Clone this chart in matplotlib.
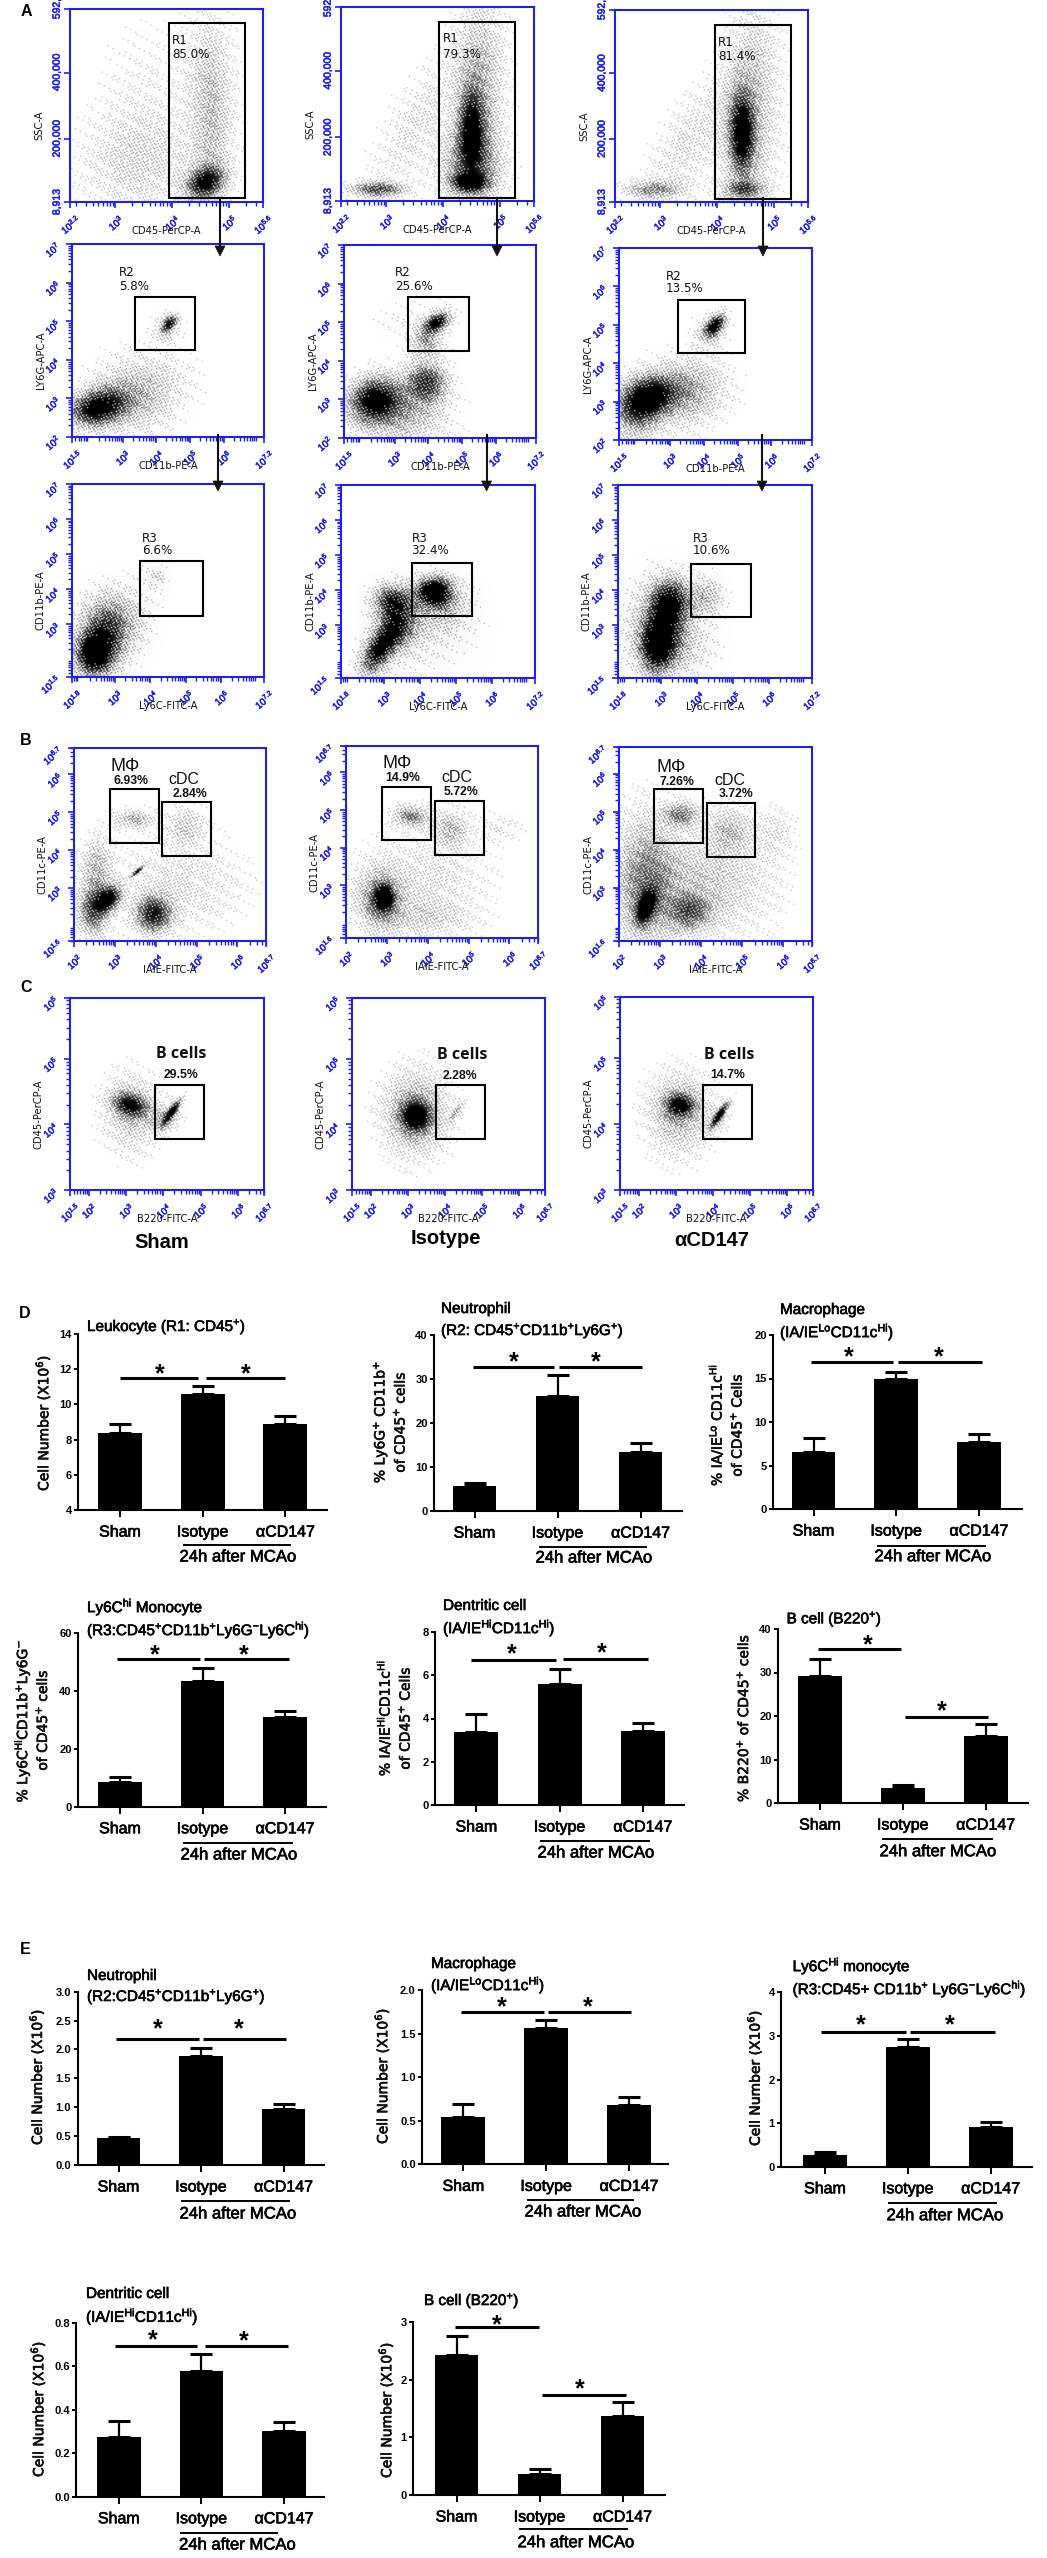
import numpy as np
import matplotlib
matplotlib.use("Agg")
import matplotlib.pyplot as plt
import matplotlib.patheffects as pe
from matplotlib.patches import Rectangle, Polygon

plt.rcParams['font.family'] = ['Liberation Sans', 'DejaVu Sans']
plt.rcParams['mathtext.fontset'] = 'custom'
plt.rcParams['mathtext.rm'] = 'Liberation Sans'
plt.rcParams['mathtext.it'] = 'Liberation Sans'
plt.rcParams['mathtext.bf'] = 'Liberation Sans:bold'
plt.rcParams['mathtext.default'] = 'regular'

W, H = 1047, 2558
BLUE = '#1f1fe6'
THICK = [pe.withStroke(linewidth=0.45, foreground='black')]
THICK_BLUE = [pe.withStroke(linewidth=0.4, foreground=BLUE)]

# ---------------- DATA: bar panels ----------------
categories = ['Sham', 'Isotype', 'αCD147']
leukocyte_vals, leukocyte_errs = [8.35, 10.6, 8.9], [0.55, 0.45, 0.45]
neutrophil_vals, neutrophil_errs = [5.7, 26.2, 13.5], [0.7, 4.8, 1.9]
macrophage_vals, macrophage_errs = [6.6, 14.9, 7.7], [1.6, 0.9, 0.9]
monocyte_vals, monocyte_errs = [8.6, 43.3, 31.0], [1.7, 4.4, 2.0]
dendritic_vals, dendritic_errs = [3.36, 5.58, 3.44], [0.84, 0.72, 0.36]
bcell_vals, bcell_errs = [29.2, 3.4, 15.5], [4.0, 0.7, 2.6]
n_neutrophil_vals, n_neutrophil_errs = [0.46, 1.885, 0.975], [0.03, 0.135, 0.08]
n_macrophage_vals, n_macrophage_errs = [0.546, 1.563, 0.677], [0.144, 0.092, 0.093]
n_monocyte_vals, n_monocyte_errs = [0.27, 2.74, 0.92], [0.07, 0.18, 0.105]
n_dendritic_vals, n_dendritic_errs = [0.276, 0.578, 0.302], [0.071, 0.078, 0.04]
n_bcell_vals, n_bcell_errs = [2.43, 0.37, 1.377], [0.33, 0.08, 0.243]

# ---------------- DATA: flow plot gates and text ----------------
r1_pct = ['85.0%', '79.3%', '81.4%']
r2_pct = ['5.8%', '25.6%', '13.5%']
r3_pct = ['6.6%', '32.4%', '10.6%']
mph_pct = ['6.93%', '14.9%', '7.26%']
cdc_pct = ['2.84%', '5.72%', '3.72%']
bc_pct = ['29.5%', '2.28%', '14.7%']
column_names = ['Sham', 'Isotype', 'αCD147']

# density clusters, as
# (centre x, centre y, long sd, short sd, angle deg, darkness), in fractions of the plot box
r1_clusters = [
    [(.70, .10, .07, .05, 30, .85), (.73, .35, .25, .07, 90, .24), (.72, .70, .20, .08, 90, .13),
     (.35, .20, .18, .17, 0, .16), (.40, .55, .25, .15, 90, .05)],
    [(.667, .095, .06, .03, 0, .9), (.676, .37, .14, .045, 90, .8), (.72, .60, .30, .08, 90, .3),
     (.19, .06, .09, .025, 0, .6), (.40, .40, .25, .09, 60, .12), (.67, .18, .12, .10, 90, .45)],
    [(.658, .36, .13, .04, 90, .9), (.667, .065, .07, .03, 0, .5), (.68, .35, .25, .09, 90, .3),
     (.72, .75, .20, .08, 90, .15), (.20, .065, .10, .03, 0, .4), (.38, .30, .22, .09, 60, .13)],
]
r2_clusters = [
    [(.13, .15, .10, .06, 15, .9), (.33, .22, .16, .12, 20, .35), (.51, .59, .035, .02, 50, .75),
     (.49, .56, .05, .05, 0, .2)],
    [(.16, .20, .09, .075, 20, .9), (.43, .29, .07, .07, 0, .7), (.485, .60, .05, .03, 30, .9),
     (.43, .50, .05, .05, 0, .4), (.30, .12, .15, .10, 0, .35), (.35, .60, .12, .08, 0, .07)],
    [(.16, .225, .09, .07, 25, .85), (.35, .25, .13, .11, 20, .4), (.08, .15, .10, .08, 90, .45),
     (.50, .60, .045, .025, 50, .9), (.47, .56, .06, .05, 50, .25)],
]
r3_clusters = [
    [(.11, .11, .08, .07, 90, .85), (.165, .23, .12, .09, 90, .6), (.27, .30, .12, .10, 90, .25),
     (.42, .52, .06, .06, 0, .1), (.45, .52, .03, .03, 0, .18)],
    [(.195, .145, .10, .05, 60, .85), (.265, .405, .07, .06, 0, .7), (.478, .45, .06, .05, 0, .95),
     (.30, .27, .08, .07, 90, .55), (.40, .20, .20, .15, 0, .12), (.53, .38, .10, .10, 0, .35)],
    [(.27, .405, .08, .07, 90, .75), (.20, .145, .09, .06, 90, .7), (.235, .25, .10, .08, 90, .45),
     (.20, .25, .18, .13, 90, .25), (.46, .42, .07, .06, 90, .35), (.38, .15, .10, .10, 0, .15)],
]
mc_clusters = [
    [(.18, .22, .05, .035, 50, .95), (.10, .16, .08, .05, 90, .6), (.12, .37, .10, .05, 90, .3),
     (.415, .14, .06, .06, 0, .8), (.315, .63, .07, .03, 0, .3), (.585, .59, .06, .06, 0, .2),
     (.55, .30, .20, .15, 0, .12), (.33, .36, .025, .006, 40, .95)],
    [(.20, .21, .04, .03, 90, .95), (.18, .20, .09, .07, 90, .55), (.34, .63, .06, .035, 0, .45),
     (.545, .56, .06, .06, 0, .28), (.40, .30, .20, .15, 0, .12), (.80, .57, .08, .05, 0, .08),
     (.40, .10, .15, .06, 0, .15)],
    [(.14, .175, .06, .03, 70, .95), (.14, .30, .20, .10, 90, .45), (.365, .15, .07, .06, 0, .5),
     (.32, .65, .06, .04, 0, .45), (.575, .57, .07, .07, 0, .25), (.45, .30, .20, .17, 0, .22),
     (.80, .55, .08, .07, 90, .1)],
]
bc_clusters = [
    [(.31, .44, .06, .04, -15, .75), (.32, .40, .12, .09, 90, .25), (.525, .405, .05, .012, 55, 1.0),
     (.49, .37, .05, .04, 40, .3)],
    [(.33, .38, .05, .05, 0, .9), (.33, .40, .13, .10, 90, .4), (.54, .405, .04, .012, 55, .35)],
    [(.31, .44, .05, .04, 0, .8), (.31, .40, .13, .10, 90, .3), (.517, .39, .05, .012, 55, 1.0),
     (.50, .37, .05, .04, 90, .12)],
]

# ---------------- layout ----------------
fig = plt.figure(figsize=(W / 100, H / 100), dpi=100, facecolor='white')


def ax_px(x0, y0, x1, y1, **kw):
    return fig.add_axes([x0 / W, 1 - y1 / H, (x1 - x0) / W, (y1 - y0) / H], **kw)


ov = fig.add_axes([0, 0, 1, 1], zorder=20)
ov.set_xlim(0, W)
ov.set_ylim(H, 0)
ov.axis('off')
ov.patch.set_alpha(0)


def density_image(clusters, nx, ny, cell, gamma):
    fx = (np.arange(nx) + .5) / nx
    fy = (np.arange(ny) + .5) / ny
    X, Y = np.meshgrid(fx, fy)
    d = np.zeros_like(X)
    for cx, cy, a, b, th, p in clusters:
        t = np.deg2rad(th)
        u = (X - cx) * np.cos(t) + (Y - cy) * np.sin(t)
        v = -(X - cx) * np.sin(t) + (Y - cy) * np.cos(t)
        d += p * np.exp(-.5 * (u / a) ** 2 - .5 * (v / b) ** 2)
    d = np.clip(d, 0, 1)
    # interference texture: reproduces the herringbone grain of the printed dot plot
    xp, yp = np.meshgrid(np.arange(nx) * cell, np.arange(ny) * cell)
    T = .5 + .25 * (np.sin(2 * np.pi * (xp / 3.3 + yp / 5.1)) + np.sin(2 * np.pi * (xp / 4.3 - yp / 3.1)))
    level = d ** gamma
    dots = (level > T * .95 + .03).astype(float)
    dots[d < .012] = 0
    return np.clip(1 - (.22 * d + .85 * dots * (.30 + .70 * d)), 0, 1)


def minor_positions(lo, hi):
    out = []
    for n in range(int(np.floor(lo)), int(np.ceil(hi)) + 1):
        for k in range(2, 10):
            v = n + np.log10(k)
            if lo < v < hi:
                out.append(v)
    return out


def decade_label(v):
    return f'$10^{{{v:g}}}$'


def flow_panel(box, clusters, xlim, xmaj, ylim, ymaj, xlabel, ylabel, linear_y=False, ylabels=None, gamma=.65):
    x0, y0, x1, y1 = box
    ax = ax_px(x0, y0, x1, y1)
    cell = 1.25
    nx, ny = int((x1 - x0) / cell), int((y1 - y0) / cell)
    img = density_image(clusters, nx, ny, cell, gamma)
    ax.imshow(img, origin='lower', cmap='gray', vmin=0, vmax=1, interpolation='bilinear',
              aspect='auto', extent=[xlim[0], xlim[1], ylim[0], ylim[1]], zorder=1)
    ax.set_xlim(*xlim)
    ax.set_ylim(*ylim)
    for s in ax.spines.values():
        s.set_color(BLUE)
        s.set_linewidth(1.5)
    ax.set_xticks(xmaj, [decade_label(v) for v in xmaj])
    ax.set_xticks(minor_positions(*xlim), minor=True)
    ax.tick_params(axis='x', which='major', length=4.5, width=1.2, color=BLUE, labelcolor=BLUE,
                   labelsize=7, labelrotation=40, pad=2.2)
    ax.tick_params(axis='x', which='minor', length=3, width=1.0, color=BLUE)
    if linear_y:
        ax.set_yticks(ymaj, ylabels)
        ax.tick_params(axis='y', which='major', length=4, width=1.2, color=BLUE, labelcolor=BLUE,
                       labelsize=7.5, pad=2)
        for t in ax.get_yticklabels():
            t.set_rotation(90)
            t.set_va('center')
    else:
        ax.set_yticks(ymaj, ylabels if ylabels else [decade_label(v) for v in ymaj])
        ax.set_yticks(minor_positions(*ylim), minor=True)
        ax.tick_params(axis='y', which='major', length=4.5, width=1.2, color=BLUE, labelcolor=BLUE,
                       labelsize=7, labelrotation=40, pad=2)
        ax.tick_params(axis='y', which='minor', length=3, width=1.0, color=BLUE)
    for t in ax.get_xticklabels() + ax.get_yticklabels():
        t.set_path_effects(THICK_BLUE)
    ov.text((x0 + x1) / 2, y1 + 29, xlabel, ha='center', va='center', fontsize=7.2,
            family='DejaVu Sans', color='#111111')
    ov.text(x0 - 31, (y0 + y1) / 2 + 20, ylabel, ha='center', va='center', rotation=90, fontsize=7.2,
            family='DejaVu Sans', color='#111111')
    return ax


def gate(x0, y0, x1, y1):
    ov.add_patch(Rectangle((x0, y0), x1 - x0, y1 - y0, fill=False, ec='black', lw=1.5, zorder=5))


def gate_text(x, y, s, size=8.6, bold=False, family='DejaVu Sans'):
    ov.text(x, y, s, ha='left', va='center', fontsize=size, family=family,
            weight='bold' if bold else 'normal', color='#111111')


def arrow(x, y0, y1):
    ov.plot([x, x], [y0, y1 - 8], color='#111111', lw=1.5, zorder=6)
    ov.add_patch(Polygon([(x - 5, y1 - 10), (x + 5, y1 - 10), (x, y1)], closed=True, fc='#111111',
                         ec='#111111', lw=.5, zorder=6))


# --- panel A ---
row1_boxes = [(70, 9, 263, 202), (341, 7, 534, 201), (615, 10, 808, 202)]
row2_boxes = [(72, 244, 264, 437), (344, 245, 536, 438), (619, 248, 812, 440)]
row3_boxes = [(72, 484, 264, 677), (341, 485, 535, 678), (618, 485, 812, 678)]
mc_boxes = [(74, 748, 266, 941), (346, 746, 538, 938), (619, 747, 812, 941)]
bc_boxes = [(70, 998, 264, 1190), (352, 998, 545, 1190), (620, 997, 813, 1190)]

for i in range(3):
    flow_panel(row1_boxes[i], r1_clusters[i], (2.2, 5.6), [2.2, 3, 4, 5, 5.6], (8913, 592000),
               [8913, 200000, 400000, 592000], 'CD45-PerCP-A', 'SSC-A', linear_y=True,
               ylabels=['8,913', '200,000', '400,000', '592,'], gamma=.7)
    flow_panel(row2_boxes[i], r2_clusters[i], (1.5, 7.2), [1.5, 3, 4, 5, 6, 7.2], (2, 7),
               [2, 3, 4, 5, 6, 7], 'CD11b-PE-A', 'LY6G-APC-A', gamma=.8)
    flow_panel(row3_boxes[i], r3_clusters[i], (1.8, 7.2), [1.8, 3, 4, 5, 6, 7.2], (1.5, 7),
               [1.5, 3, 4, 5, 6, 7], 'Ly6C-FITC-A', 'CD11b-PE-A', gamma=1.0)
    flow_panel(mc_boxes[i], mc_clusters[i], (2, 6.7), [2, 3, 4, 5, 6, 6.7], (1.6, 6.7),
               [1.6, 3, 4, 5, 6, 6.7], 'IAIE-FITC-A', 'CD11c-PE-A')
    flow_panel(bc_boxes[i], bc_clusters[i], (1.5, 6.7), [1.5, 2, 3, 4, 5, 6, 6.7], (3, 5.93),
               [3, 4, 5, 5.93], 'B220-FITC-A', 'CD45-PerCP-A',
               ylabels=['$10^{3}$', '$10^{4}$', '$10^{5}$', '$10^{5}$'])

r1_gates = [(169, 23, 245, 197.5), (439, 22, 514.5, 197.5), (715, 25, 791, 199)]
r2_gates = [(134.6, 297, 194.6, 350), (408, 297, 469, 351.4), (678, 300, 745, 353)]
r3_gates = [(140, 561, 202.5, 616), (412, 563, 472, 616), (691, 564, 751, 617)]
r1_text = [(172, 40, 54), (442.5, 39, 54), (718, 43, 57)]
r2_text = [(119, 273, 286), (395, 273, 286), (666, 276, 288)]
r3_text = [(142, 538, 550), (411.5, 538, 550), (692.7, 538, 550)]
for i in range(3):
    gate(*r1_gates[i]); gate(*r2_gates[i]); gate(*r3_gates[i])
    gate_text(r1_text[i][0], r1_text[i][1], 'R1'); gate_text(r1_text[i][0], r1_text[i][2], r1_pct[i])
    gate_text(r2_text[i][0], r2_text[i][1], 'R2'); gate_text(r2_text[i][0], r2_text[i][2], r2_pct[i])
    gate_text(r3_text[i][0], r3_text[i][1], 'R3'); gate_text(r3_text[i][0], r3_text[i][2], r3_pct[i])

for x1, x2, x3 in [(220, 218, 219), (497, 486.6, 486.6), (763, 762, 762)]:
    arrow(x1, 198, 256)
    arrow(x2, 435, 491)

# --- panel B ---
mph_gates = [(109.5, 789, 159, 843), (381.5, 787, 431, 840), (654, 789, 703, 843)]
cdc_gates = [(162, 802, 211, 856), (434.6, 801, 484, 855), (707, 803, 755, 857)]
mph_text = [(110.5, 766.7, 114, 780.5), (382, 764, 385, 778), (656, 768, 660, 781.7)]
cdc_text = [(168.7, 780, 173, 794), (441, 778, 443.5, 792.4), (714, 780.7, 719, 794)]
for i in range(3):
    gate(*mph_gates[i]); gate(*cdc_gates[i])
    a, b, c, d = mph_text[i]
    gate_text(a, b, 'MΦ', size=13, family='Liberation Sans')
    gate_text(c, d, mph_pct[i], size=8.8, family='Liberation Sans', bold=True)
    a, b, c, d = cdc_text[i]
    gate_text(a, b, 'cDC', size=11.5, family='Liberation Sans')
    gate_text(c, d, cdc_pct[i], size=8.8, family='Liberation Sans', bold=True)

# --- panel C ---
bc_gates = [(154.6, 1085, 204, 1139), (435.6, 1085, 485, 1139), (703, 1085, 752, 1139)]
bc_text = [(155.6, 1054, 163.6, 1074.7), (437, 1055, 442.5, 1075.6), (704, 1055, 710, 1074.7)]
for i in range(3):
    gate(*bc_gates[i])
    a, b, c, d = bc_text[i]
    gate_text(a, b, 'B cells', size=11.5, family='Open Sans', bold=True)
    gate_text(c, d, bc_pct[i], size=8.8, family='Liberation Sans', bold=True)

for x, y, s in zip([162, 446, 712], [1242, 1239, 1240], column_names):
    ov.text(x, y, s, ha='center', va='center', fontsize=14.5, weight='bold', family=['Liberation Sans', 'DejaVu Sans'])

for x, y, s in [(26, 11.5, 'A'), (26, 740.5, 'B'), (26, 988, 'C'), (25, 1313, 'D'), (25, 1949, 'E')]:
    ov.text(x, y, s, ha='center', va='center', fontsize=11.5, weight='bold')

# --- bar panels ---
SIG_LW = 2.2


def bar_panel(box, c0, sp, vals, errs, ylim, yticks, ytlabels, sigs, stars, line, caption, titles, ylabels):
    x0, y0, x1, y1 = box
    ax = ax_px(x0, y0, x1, y1)
    xs = np.arange(3)
    ax.bar(xs, vals, width=.53, color='black', zorder=3)
    ax.errorbar(xs, vals, yerr=[np.zeros(3), errs], fmt='none', ecolor='black', elinewidth=1.6,
                capsize=8, capthick=2.2, zorder=2)
    ax.set_xlim((x0 - c0) / sp, (x1 - c0) / sp)
    ax.set_ylim(*ylim)
    ax.patch.set_alpha(0)
    for s in ('top', 'right'):
        ax.spines[s].set_visible(False)
    for s in ('left', 'bottom'):
        ax.spines[s].set_linewidth(1.5)
    ax.set_xticks(xs, categories)
    ax.set_yticks(yticks, ytlabels)
    ax.tick_params(axis='x', length=5, width=1.4, labelsize=11.5, pad=5.5)
    ax.tick_params(axis='y', length=3, width=1.4, labelsize=8, pad=1.5)
    for t in ax.get_yticklabels():
        t.set_fontweight('bold')
    for t in ax.get_xticklabels():
        t.set_path_effects(THICK)
    for (a, b, y) in sigs:
        ov.plot([a, b], [y, y], color='black', lw=SIG_LW, solid_capstyle='butt')
    for (x, y) in stars:
        ov.text(x, y + 5, '*', ha='center', va='center', fontsize=18, weight='bold')
    ov.plot([line[0], line[1]], [line[2], line[2]], color='black', lw=1.4)
    ov.text(caption[0], caption[1], '24h after MCAo', ha='center', va='center', fontsize=12, path_effects=THICK)
    for (x, y, s) in titles:
        ov.text(x, y, s, ha='left', va='center', fontsize=11, path_effects=THICK)
    for (x, y, s) in ylabels:
        ov.text(x, y, s, ha='center', va='center', rotation=90, fontsize=10, family='DejaVu Sans',
                math_fontfamily='dejavusans', color='#111111', path_effects=THICK)
    return ax


CELLS = 'Cell Number (X10$^{6}$)'

bar_panel((78, 1334, 327, 1510), 120, 82.7, leukocyte_vals, leukocyte_errs, (4, 14), [4, 6, 8, 10, 12, 14],
          ['4', '6', '8', '10', '12', '14'],
          [(120, 198, 1378), (205.7, 285, 1378)], [(160, 1369), (246, 1369)], (183.6, 290, 1545), (238, 1557),
          [(87, 1327, 'Leukocyte (R1: CD45$^{+}$)')], [(43, 1423, CELLS)])
bar_panel((434, 1335, 682.4, 1511), 474.5, 83, neutrophil_vals, neutrophil_errs, (0, 40), [0, 10, 20, 30, 40],
          ['0', '10', '20', '30', '40'],
          [(473, 554, 1366.7), (559, 642, 1366.7)], [(514, 1357), (596, 1357)], (539.5, 646, 1547), (594, 1558),
          [(441, 1309, 'Neutrophil'), (441, 1331, '(R2: CD45$^{+}$CD11b$^{+}$Ly6G$^{+}$)')],
          [(380, 1422, '% Ly6G$^{+}$ CD11b$^{+}$'), (399, 1422, 'of CD45$^{+}$ cells')])
bar_panel((773, 1335, 1021.6, 1509), 813.5, 82.7, macrophage_vals, macrophage_errs, (0, 20), [0, 5, 10, 15, 20],
          ['0', '5', '10', '15', '20'],
          [(810.6, 893.4, 1361.7), (898, 981.6, 1361.7)], [(849, 1352.7), (939, 1352.7)], (878, 985, 1546), (933, 1556.7),
          [(780, 1310, 'Macrophage'), (780, 1332, '(IA/IE$^{Lo}$CD11c$^{Hi}$)')],
          [(716, 1425, '% IA/IE$^{Lo}$ CD11c$^{Hi}$'), (736, 1425, 'of CD45$^{+}$ Cells')])
bar_panel((78, 1632.7, 326, 1806.7), 120, 82.5, monocyte_vals, monocyte_errs, (0, 60), [0, 20, 40, 60],
          ['0', '20', '40', '60'],
          [(117, 200, 1659), (203.7, 288.5, 1659)], [(155, 1650.7), (243.7, 1650.7)], (183.6, 291.8, 1842.7), (239, 1855),
          [(87, 1607, 'Ly6C$^{hi}$ Monocyte'), (87, 1630, '(R3:CD45$^{+}$CD11b$^{+}$Ly6G$^{-}$Ly6C$^{hi}$)')],
          [(22, 1721, '% Ly6C$^{Hi}$CD11b$^{+}$Ly6G$^{-}$'), (41.4, 1720, 'of CD45$^{+}$ cells')])
bar_panel((435.4, 1632, 684.4, 1805), 476.4, 83.2, dendritic_vals, dendritic_errs, (0, 8), [0, 2, 4, 6, 8],
          ['0', '2', '4', '6', '8'],
          [(471.4, 556, 1660), (563, 647.7, 1659)], [(511.5, 1649.3), (602, 1648.3)], (541, 649, 1840.7), (596, 1853),
          [(443, 1606, 'Dentritic cell'), (443, 1628, '(IA/IE$^{Hi}$CD11c$^{Hi}$)')],
          [(384, 1718, '% IA/IE$^{Hi}$CD11c$^{Hi}$'), (404, 1718, 'of CD45$^{+}$ Cells')])
bar_panel((778, 1629, 1028, 1803), 820, 82.8, bcell_vals, bcell_errs, (0, 40), [0, 10, 20, 30, 40],
          ['0', '10', '20', '30', '40'],
          [(818, 901.4, 1649.3), (905, 988, 1716.7)], [(868, 1640.7), (942, 1706)], (883, 991.6, 1839.3), (938, 1851.7),
          [(786.6, 1619.3, 'B cell (B220$^{+}$)')], [(742.5, 1718, '% B220$^{+}$ of CD45$^{+}$ cells')])

bar_panel((77.5, 1991.7, 324, 2165), 118.5, 82.5, n_neutrophil_vals, n_neutrophil_errs, (0, 3),
          [0, .5, 1, 1.5, 2, 2.5, 3], ['0.0', '0.5', '1.0', '1.5', '2.0', '2.5', '3.0'],
          [(116, 199, 2039), (203, 285.8, 2039)], [(158, 2024), (239, 2024)], (182, 289, 2200.7), (238, 2214),
          [(87, 1976, 'Neutrophil'), (87, 1997, '(R2:CD45$^{+}$CD11b$^{+}$Ly6G$^{+}$)')], [(36.7, 2077, CELLS)])
bar_panel((422, 1990, 667.7, 2164.3), 463.4, 82.8, n_macrophage_vals, n_macrophage_errs, (0, 2),
          [0, .5, 1, 1.5, 2], ['0.0', '0.5', '1.0', '1.5', '2.0'],
          [(460.7, 544, 2012), (547.5, 631, 2012)], [(501.5, 2002.7), (587.6, 2002.7)], (527.5, 633, 2200.3), (583, 2212),
          [(431, 1964, 'Macrophage'), (431, 1985, '(IA/IE$^{Lo}$CD11c$^{Hi}$)')], [(382, 2076, CELLS)])
bar_panel((781, 1992.3, 1031.6, 2166.7), 825, 82.8, n_monocyte_vals, n_monocyte_errs, (0, 4),
          [0, 1, 2, 3, 4], ['0', '1', '2', '3', '4'],
          [(821, 906, 2031.7), (910, 995, 2031.7)], [(861, 2020.7), (949.5, 2020.7)], (889.4, 996, 2202.7), (945, 2215.7),
          [(792.6, 1966, 'Ly6C$^{Hi}$ monocyte'), (792.6, 1989, '(R3:CD45+ CD11b$^{+}$ Ly6G$^{-}$Ly6C$^{hi}$)')],
          [(754.5, 2078, CELLS)])
bar_panel((76, 2322.7, 323.7, 2496.7), 118.8, 82.6, n_dendritic_vals, n_dendritic_errs, (0, .8),
          [0, .2, .4, .6, .8], ['0.0', '0.2', '0.4', '0.6', '0.8'],
          [(114.7, 197, 2345.7), (205, 288.4, 2345.7)], [(153, 2335), (244, 2336)], (181, 277, 2532.7), (237.5, 2545),
          [(86, 2294, 'Dentritic cell'), (86, 2316.7, '(IA/IE$^{Hi}$CD11c$^{Hi}$)')], [(38, 2409, CELLS)])
bar_panel((413, 2322.3, 665, 2495), 456.5, 83, n_bcell_vals, n_bcell_errs, (0, 3),
          [0, 1, 2, 3], ['0', '1', '2', '3'],
          [(455.4, 539, 2327.3), (541.5, 626, 2395)], [(496.4, 2320), (579.5, 2384)], (520, 627, 2529.3), (576, 2542.7),
          [(424, 2301, 'B cell (B220$^{+}$)')], [(386, 2410, CELLS)])

fig.savefig('out.png', dpi=100)
